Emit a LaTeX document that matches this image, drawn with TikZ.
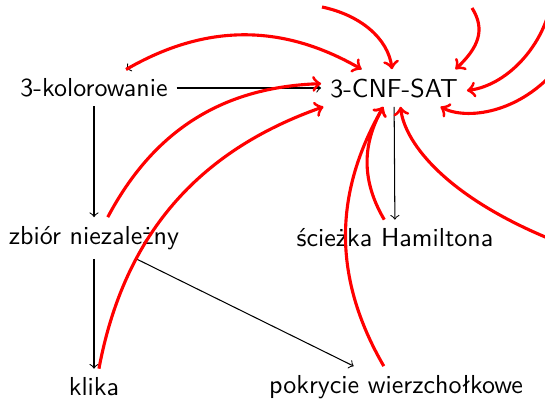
\documentclass[tikz,border=0pt]{standalone}
\usepackage{fontspec}
\begin{document}
\begin{tikzpicture}[x=0.3846pt, y=0.3846pt, font=\sffamily,
  every node/.style={inner sep=3.33pt},
  blk/.style={->, black, line width=0.4pt},
  redarr/.style={->, red, line width=1.2pt}]
\useasboundingbox (0,0) rectangle (545,398);
\clip (0,0) rectangle (545,398);
% nodes
\node (kol) at (94,310) {3-kolorowanie};
\node (cnf) at (394,310) {3-CNF-SAT};
\node (zbior) at (94,160) {zbiór niezależny};
\node (sciezka) at (395,160) {ścieżka Hamiltona};
\node (klika) at (94,11) {klika};
\node (pokrycie) at (396,11) {pokrycie wierzchołkowe};
% off-picture ends
\coordinate (s2) at (322,391);
\coordinate (s3) at (472,390);
\coordinate (s4) at (552,403);
\coordinate (s5) at (560,333);
\coordinate (s10) at (560,155);
% black arrows
\draw[blk] (kol) -- (cnf);
\draw[blk] (kol) -- (zbior);
\draw[blk] (zbior) -- (klika);
\draw[blk] (zbior) -- (pokrycie);
\draw[blk] (cnf) -- (sciezka);
\draw[blk] (cnf) to[bend right=30] (kol);
% red arrows
\draw[redarr] (kol) to[bend left=30] (cnf);
\draw[redarr] (zbior) to[bend left=30] (cnf);
\draw[redarr] (klika) to[bend left=30] (cnf);
\draw[redarr] (sciezka) to[bend left=30] (cnf);
\draw[redarr] (pokrycie) to[bend left=30] (cnf);
\draw[redarr] (s2) .. controls (360,383) and (388,360) .. (cnf.96);
\draw[redarr] (s3) .. controls (486,368) and (478,350) .. (cnf.17);
\draw[redarr] (s4) .. controls (548,358) and (510,313) .. (cnf.-2);
\draw[redarr] (s5) .. controls (520,283) and (465,278) .. (cnf.-22);
\draw[redarr] (s10) .. controls (450,198) and (405,253) .. (cnf.-71);
\end{tikzpicture}
\end{document}
